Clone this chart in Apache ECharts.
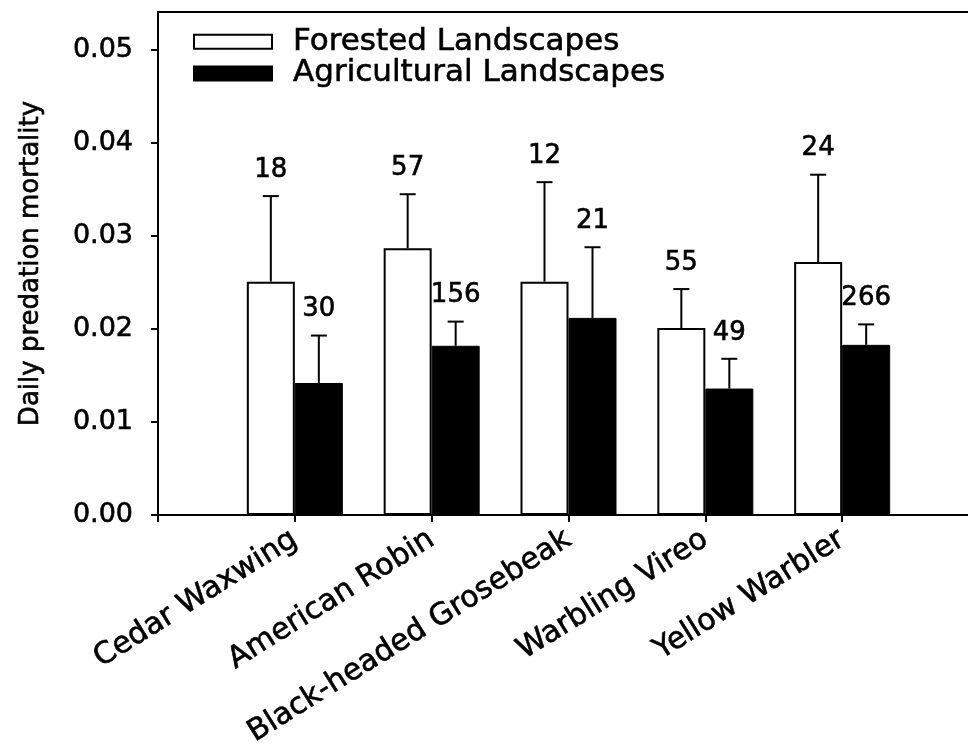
<!DOCTYPE html>
<html>
<head>
<meta charset="utf-8">
<script src="https://cdn.jsdelivr.net/npm/echarts@6/dist/echarts.min.js"></script>
<style>
  html, body { margin: 0; padding: 0; background: #fff; overflow: hidden; }
  #chart { width: 968px; height: 756px; }
</style>
</head>
<body>
<div id="chart"></div>
<script>
// ---- data ----
const species = ['Cedar Waxwing', 'American Robin', 'Black-headed Grosebeak', 'Warbling Vireo', 'Yellow Warbler'];
const forestedMean = [0.0251, 0.0287, 0.0251, 0.0201, 0.0272];
const forestedSE   = [0.0092, 0.0058, 0.0107, 0.0042, 0.0094];
const forestedN    = [18, 57, 12, 55, 24];
const agriMean     = [0.0142, 0.0182, 0.0212, 0.0136, 0.0183];
const agriSE       = [0.0051, 0.0026, 0.0076, 0.0032, 0.0022];
const agriN        = [30, 156, 21, 49, 266];
const yTicks = [0, 0.01, 0.02, 0.03, 0.04, 0.05];

// ---- build ----
const FONT = 'DejaVu Sans';
const INK = { textBorderColor: '#000', textBorderWidth: 0.6 };
const cats = [''].concat(species).concat(['']);
const pad = arr => [null].concat(arr).concat([null]);
const BAR_W = 48;

function errData(mean, se, n, side) {
  return mean.map((m, i) => [i + 1, m, m + se[i], n[i], side]);
}

function renderErr(params, api) {
  const cat = api.value(0);
  const top = api.coord([cat, api.value(2)]);
  const base = api.coord([cat, api.value(1)]);
  const side = api.value(4);
  const x = top[0] + side * BAR_W / 2;
  const cap = 8;
  return {
    type: 'group',
    children: [
      { type: 'line', shape: { x1: x, y1: base[1], x2: x, y2: top[1] }, style: { stroke: '#000', lineWidth: 2 } },
      { type: 'line', shape: { x1: x - cap, y1: top[1], x2: x + cap, y2: top[1] }, style: { stroke: '#000', lineWidth: 2 } },
      { type: 'text', x: x, y: top[1] - 26, style: { text: String(api.value(3)), font: '26px "' + FONT + '"', fill: '#000', stroke: '#000', lineWidth: 0.6, align: 'center', verticalAlign: 'middle' } }
    ]
  };
}

const chart = echarts.init(document.getElementById('chart'), null, { renderer: 'canvas' });
chart.setOption({
  animation: false,
  backgroundColor: '#fff',
  textStyle: { fontFamily: FONT, color: '#000' },
  grid: {
    left: 158, top: 12, bottom: 241, right: -11,
    outerBoundsMode: 'none',
    containLabel: false,
    show: true, borderColor: '#000', borderWidth: 2, backgroundColor: 'transparent'
  },
  legend: {
    orient: 'vertical',
    left: 188,
    top: 21,
    itemWidth: 78,
    itemHeight: 14,
    itemGap: 0,
    icon: 'rect',
    textStyle: Object.assign({ fontFamily: FONT, fontSize: 31, lineHeight: 30, color: '#000', padding: [0, 0, 0, 16] }, INK),
    data: ['Forested Landscapes', 'Agricultural Landscapes']
  },
  xAxis: {
    type: 'category',
    data: cats,
    boundaryGap: false,
    axisLine: { lineStyle: { color: '#000', width: 2 } },
    axisTick: { show: true, length: 7, inside: false, interval: 0, lineStyle: { color: '#000', width: 2 } },
    axisLabel: Object.assign({ interval: 0, rotate: 32, margin: 22, fontFamily: FONT, fontSize: 30, color: '#000' }, INK),
    splitLine: { show: false }
  },
  yAxis: {
    type: 'value',
    min: 0,
    max: 0.0541,
    interval: 0.01,
    name: 'Daily predation mortality',
    nameLocation: 'middle',
    nameRotate: 90,
    nameGap: 114,
    nameTextStyle: Object.assign({ fontFamily: FONT, fontSize: 26, color: '#000' }, INK),
    axisLine: { show: true, lineStyle: { color: '#000', width: 2 } },
    axisTick: { show: true, length: 7, lineStyle: { color: '#000', width: 2 } },
    axisLabel: Object.assign({
      margin: 25,
      fontFamily: FONT,
      fontSize: 27,
      color: '#000',
      showMaxLabel: false,
      formatter: v => yTicks.some(t => Math.abs(t - v) < 1e-9) ? v.toFixed(2) : ''
    }, INK),
    splitLine: { show: false }
  },
  series: [
    {
      name: 'Forested Landscapes',
      type: 'bar',
      data: pad(forestedMean),
      barWidth: BAR_W,
      barGap: '0%',
      itemStyle: { color: '#fff', borderColor: '#000', borderWidth: 2 }
    },
    {
      name: 'Agricultural Landscapes',
      type: 'bar',
      data: pad(agriMean),
      barWidth: BAR_W,
      barGap: '0%',
      itemStyle: { color: '#000', borderColor: '#000', borderWidth: 1 }
    },
    {
      type: 'custom',
      renderItem: renderErr,
      data: errData(forestedMean, forestedSE, forestedN, -1),
      encode: { x: 0, y: [1, 2] },
      z: 5
    },
    {
      type: 'custom',
      renderItem: renderErr,
      data: errData(agriMean, agriSE, agriN, 1),
      encode: { x: 0, y: [1, 2] },
      z: 5
    }
  ]
});
</script>
</body>
</html>
